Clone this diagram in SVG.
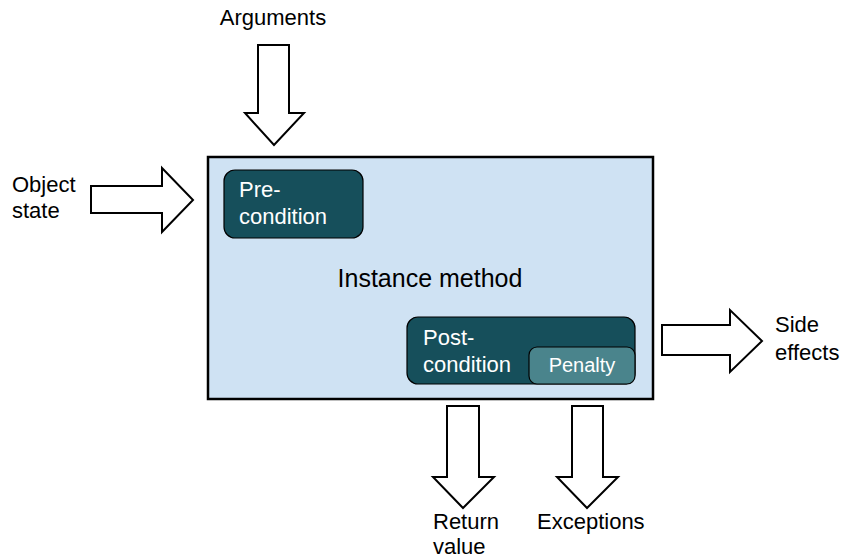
<svg xmlns="http://www.w3.org/2000/svg" width="845" height="560" viewBox="0 0 845 560">
<style>
text{font-family:"Liberation Sans",Arial,sans-serif;font-size:22px;fill:#000}
.w{fill:#fff}
.arrow{fill:#fff;stroke:#000;stroke-width:2;stroke-linejoin:miter}
.cond{fill:#164f5b;stroke:#000;stroke-width:1.2}
.pen{fill:#4a848c;stroke:#000;stroke-width:1.2}
</style>
<rect width="845" height="560" fill="#fff"/>
<g id="method">
<rect x="208" y="157" width="445" height="242" fill="#cfe2f3" stroke="#000" stroke-width="2.5"/>
<text x="430" y="287" text-anchor="middle" style="font-size:25px">Instance method</text>
</g>
<g id="precondition">
<rect class="cond" x="224" y="170" width="139" height="68" rx="11"/>
<text class="w" x="239" y="197">Pre-</text>
<text class="w" x="239" y="224">condition</text>
</g>
<g id="postcondition">
<rect class="cond" x="407" y="317" width="228" height="67" rx="11"/>
<text class="w" x="423" y="345">Post-</text>
<text class="w" x="423" y="372">condition</text>
</g>
<g id="penalty">
<rect class="pen" x="529" y="347" width="106" height="37" rx="8"/>
<text class="w" x="582" y="372" text-anchor="middle" style="font-size:20px">Penalty</text>
</g>
<g id="connectors">
<polygon class="arrow" points="258,45 289,45 289,113 304,113 274,145 245,113 258,113"/>
<polygon class="arrow" points="91,186 162,186 162,168 193,200 162,232 162,213 91,213"/>
<polygon class="arrow" points="662,325 730,325 730,310 762,341 730,372 730,355 662,355"/>
<polygon class="arrow" points="447,406 479,406 479,477 494,477 463,508 433,477 447,477"/>
<polygon class="arrow" points="572,406 603,406 603,477 618,477 587,508 557,477 572,477"/>
</g>
<g id="labels">
<text x="273" y="25" text-anchor="middle">Arguments</text>
<text x="12" y="192">Object</text>
<text x="12" y="218">state</text>
<text x="775" y="332">Side</text>
<text x="775" y="360">effects</text>
<text x="433" y="529">Return</text>
<text x="433" y="554">value</text>
<text x="537" y="529">Exceptions</text>
</g>
</svg>
